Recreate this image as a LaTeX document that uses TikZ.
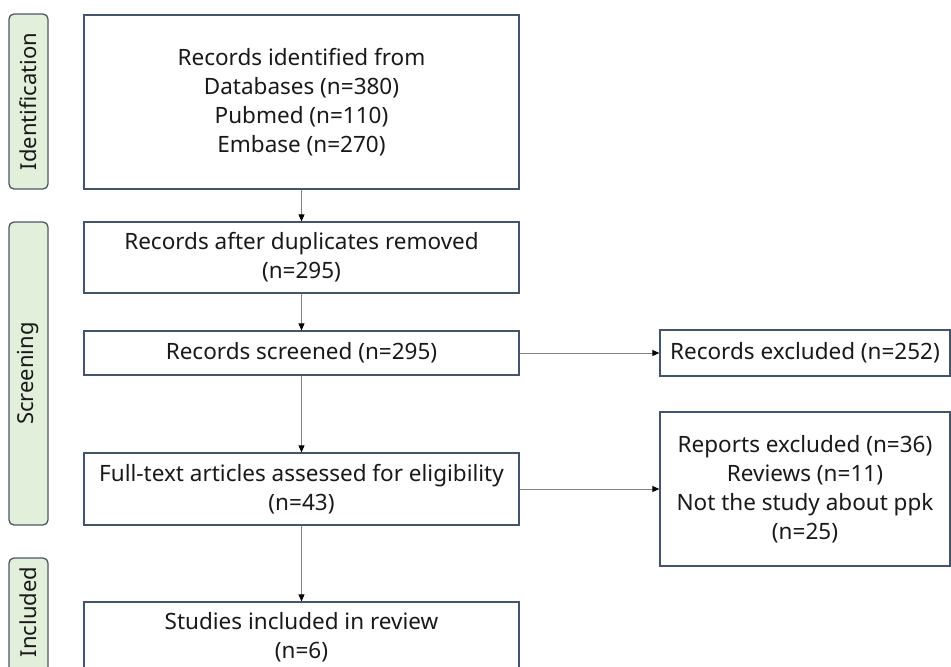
\documentclass[tikz,border=0pt]{standalone}
\usepackage{fontspec}
\setmainfont{Noto Sans}
\usetikzlibrary{arrows.meta}
\definecolor{boxline}{HTML}{44546A}
\definecolor{labfill}{HTML}{E2EFDA}
\definecolor{labline}{HTML}{4F5663}
\definecolor{arrline}{HTML}{808080}
\begin{document}
\begin{tikzpicture}[x=1pt,y=-1pt,
  mainbox/.style={draw=boxline,line width=1.3pt,fill=white,align=center,inner sep=0pt,
    font=\fontsize{22.5}{29}\selectfont,text=black!90},
  phase/.style={draw=labline,line width=1.3pt,fill=labfill,rounded corners=5pt,inner sep=0pt},
  phasetext/.style={rotate=90,font=\fontsize{22}{26}\selectfont,text=black!90},
  flow/.style={draw=arrline,line width=0.8pt,-{Triangle[length=7pt,width=6pt,color=black]}}]
\useasboundingbox (0,0) rectangle (951,667);
% phase labels
\node[phase,minimum width=39pt,minimum height=175pt] (lid) at (28.5,101.5) {};
\node[phasetext] (tid) at (lid.center) {Identification};
\node[phase,minimum width=39pt,minimum height=303pt] (lsc) at (28.5,373.5) {};
\node[phasetext] (tsc) at (lsc.center) {Screening};
\node[phase,minimum width=39pt,minimum height=140pt] (lin) at (28.5,628) {};
\node[phasetext] (tin) at (28.5,612) {Included};
% main boxes
\node[mainbox,minimum width=435pt,minimum height=174pt] (b1) at (301.5,102)
  {Records identified from\\Databases (n=380)\\Pubmed (n=110)\\Embase (n=270)};
\node[mainbox,minimum width=435pt,minimum height=71pt] (b2) at (301.5,257.5)
  {Records after duplicates removed\\(n=295)};
\node[mainbox,minimum width=435pt,minimum height=44pt] (b3) at (301.5,353)
  {Records screened (n=295)};
\node[mainbox,minimum width=435pt,minimum height=72pt] (b4) at (301.5,489)
  {Full-text articles assessed for eligibility\\(n=43)};
\node[mainbox,minimum width=435pt,minimum height=70pt] (b5) at (301.5,637)
  {Studies included in review\\(n=6)};
% right boxes
\node[mainbox,minimum width=290pt,minimum height=46pt] (r1) at (805,353)
  {Records excluded (n=252)};
\node[mainbox,minimum width=290pt,minimum height=154pt] (r2) at (805,489)
  {Reports excluded (n=36)\\Reviews (n=11)\\Not the study about ppk\\(n=25)};
% connectors
\draw[flow] (b1) -- (b2);
\draw[flow] (b2) -- (b3);
\draw[flow] (b3) -- (b4);
\draw[flow] (b4) -- (b5);
\draw[flow] (b3) -- (r1);
\draw[flow] (b4) -- (r2);
\end{tikzpicture}
\end{document}
